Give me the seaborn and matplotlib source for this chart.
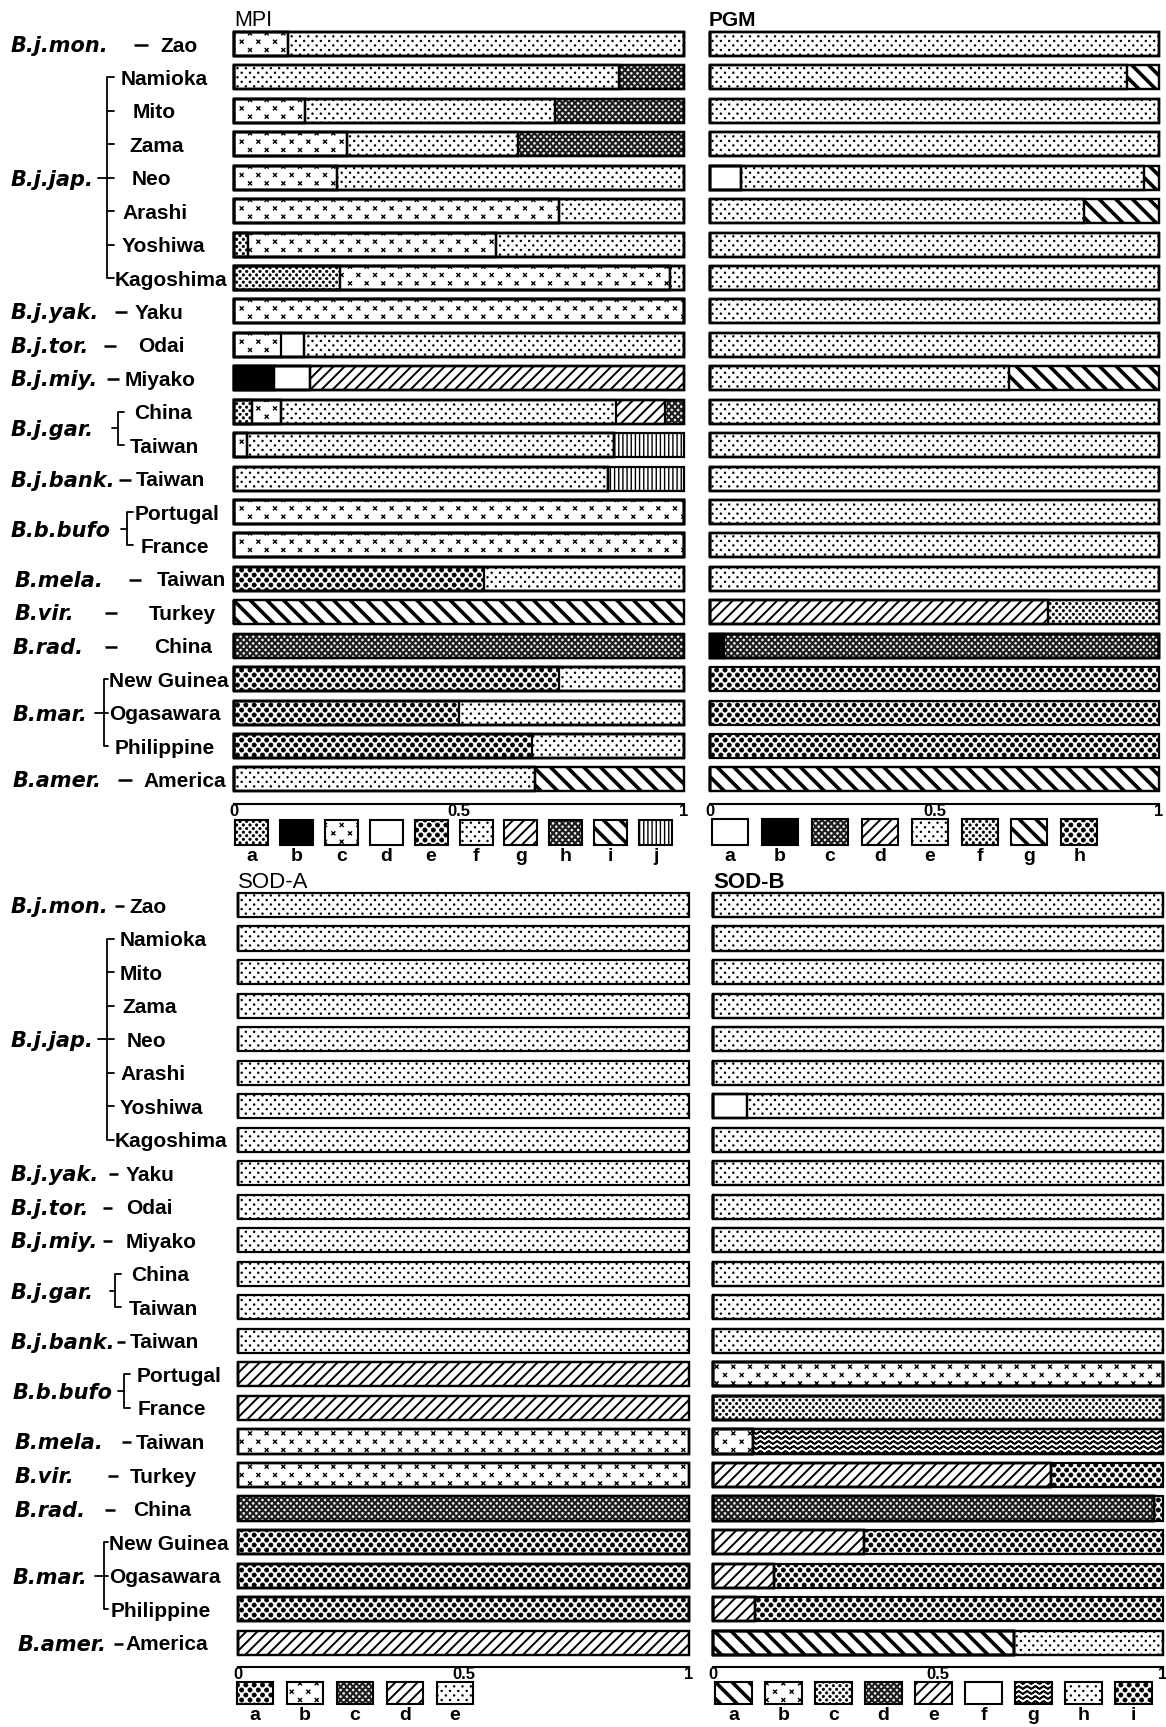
import warnings
warnings.filterwarnings("ignore")
import numpy as np
import matplotlib
matplotlib.use("Agg")
import matplotlib.pyplot as plt
import matplotlib.hatch as mhatch
from matplotlib.path import Path
import seaborn as sns

# ---------------- data ----------------
populations = ["Zao", "Namioka", "Mito", "Zama", "Neo", "Arashi", "Yoshiwa", "Kagoshima",
               "Yaku", "Odai", "Miyako", "China", "Taiwan", "Taiwan", "Portugal", "France",
               "Taiwan", "Turkey", "China", "New Guinea", "Ogasawara", "Philippine", "America"]
species = ["B.j.mon.", "B.j.jap.", "B.j.yak.", "B.j.tor.", "B.j.miy.", "B.j.gar.", "B.j.bank.",
           "B.b.bufo", "B.mela.", "B.vir.", "B.rad.", "B.mar.", "B.amer."]
species_first = [0, 1, 8, 9, 10, 11, 13, 14, 16, 17, 18, 19, 22]
species_last = [0, 7, 8, 9, 10, 12, 13, 15, 16, 17, 18, 21, 22]

# MPI alleles a-j
mpi_alleles = ["a", "b", "c", "d", "e", "f", "g", "h", "i", "j"]
mpi_a = [0, 0, 0, 0, 0, 0, .031, .236, 0, 0, 0, .041, 0, 0, 0, 0, 0, 0, 0, 0, 0, 0, 0]
mpi_b = [0, 0, 0, 0, 0, 0, 0, 0, 0, 0, .089, 0, 0, 0, 0, 0, 0, 0, 0, 0, 0, 0, 0]
mpi_c = [.12, 0, .158, .251, .229, .723, .551, .732, 1, .105, 0, .064, .028, 0, 1, 1, 0, 0, 0, 0, 0, 0, 0]
mpi_d = [0, 0, 0, 0, 0, 0, 0, 0, 0, .051, .079, 0, 0, 0, 0, 0, 0, 0, 0, 0, 0, 0, 0]
mpi_e = [0, 0, 0, 0, 0, 0, 0, 0, 0, 0, 0, 0, 0, 0, 0, 0, .556, 0, 0, .722, .5, .663, 0]
mpi_f = [.88, .856, .555, .381, .771, .277, .418, .032, 0, .844, 0, .743, .816, .832, 0, 0, .444, 0, 0, .278, .5, .337, .668]
mpi_g = [0, 0, 0, 0, 0, 0, 0, 0, 0, 0, .832, .109, 0, 0, 0, 0, 0, 0, 0, 0, 0, 0, 0]
mpi_h = [0, .144, .287, .368, 0, 0, 0, 0, 0, 0, 0, .043, 0, 0, 0, 0, 0, 0, 1, 0, 0, 0, 0]
mpi_i = [0, 0, 0, 0, 0, 0, 0, 0, 0, 0, 0, 0, 0, 0, 0, 0, 0, 1, 0, 0, 0, 0, .332]
mpi_j = [0, 0, 0, 0, 0, 0, 0, 0, 0, 0, 0, 0, .156, .168, 0, 0, 0, 0, 0, 0, 0, 0, 0]

# PGM alleles a-h
pgm_alleles = ["a", "b", "c", "d", "e", "f", "g", "h"]
pgm_a = [0, 0, 0, 0, .069, 0, 0, 0, 0, 0, 0, 0, 0, 0, 0, 0, 0, 0, 0, 0, 0, 0, 0]
pgm_b = [0, 0, 0, 0, 0, 0, 0, 0, 0, 0, 0, 0, 0, 0, 0, 0, 0, 0, .032, 0, 0, 0, 0]
pgm_c = [0, 0, 0, 0, 0, 0, 0, 0, 0, 0, 0, 0, 0, 0, 0, 0, 0, 0, .968, 0, 0, 0, 0]
pgm_d = [0, 0, 0, 0, 0, 0, 0, 0, 0, 0, 0, 0, 0, 0, 0, 0, 0, .753, 0, 0, 0, 0, 0]
pgm_e = [1, .929, 1, 1, .897, .834, 1, 1, 1, 1, .666, 1, 1, 1, 1, 1, 1, 0, 0, 0, 0, 0, 0]
pgm_f = [0, 0, 0, 0, 0, 0, 0, 0, 0, 0, 0, 0, 0, 0, 0, 0, 0, .247, 0, 0, 0, 0, 0]
pgm_g = [0, .071, 0, 0, .034, .166, 0, 0, 0, 0, .334, 0, 0, 0, 0, 0, 0, 0, 0, 0, 0, 0, 1]
pgm_h = [0, 0, 0, 0, 0, 0, 0, 0, 0, 0, 0, 0, 0, 0, 0, 0, 0, 0, 0, 1, 1, 1, 0]

# SOD-A alleles a-e
soda_alleles = ["a", "b", "c", "d", "e"]
soda_a = [0, 0, 0, 0, 0, 0, 0, 0, 0, 0, 0, 0, 0, 0, 0, 0, 0, 0, 0, 1, 1, 1, 0]
soda_b = [0, 0, 0, 0, 0, 0, 0, 0, 0, 0, 0, 0, 0, 0, 0, 0, 1, 1, 0, 0, 0, 0, 0]
soda_c = [0, 0, 0, 0, 0, 0, 0, 0, 0, 0, 0, 0, 0, 0, 0, 0, 0, 0, 1, 0, 0, 0, 0]
soda_d = [0, 0, 0, 0, 0, 0, 0, 0, 0, 0, 0, 0, 0, 0, 1, 1, 0, 0, 0, 0, 0, 0, 1]
soda_e = [1, 1, 1, 1, 1, 1, 1, 1, 1, 1, 1, 1, 1, 1, 0, 0, 0, 0, 0, 0, 0, 0, 0]

# SOD-B alleles a-i
sodb_alleles = ["a", "b", "c", "d", "e", "f", "g", "h", "i"]
sodb_a = [0, 0, 0, 0, 0, 0, 0, 0, 0, 0, 0, 0, 0, 0, 0, 0, 0, 0, 0, 0, 0, 0, .668]
sodb_b = [0, 0, 0, 0, 0, 0, 0, 0, 0, 0, 0, 0, 0, 0, 1, 0, .089, 0, 0, 0, 0, 0, 0]
sodb_c = [0, 0, 0, 0, 0, 0, 0, 0, 0, 0, 0, 0, 0, 0, 0, 1, 0, 0, 0, 0, 0, 0, 0]
sodb_d = [0, 0, 0, 0, 0, 0, 0, 0, 0, 0, 0, 0, 0, 0, 0, 0, 0, 0, .979, 0, 0, 0, 0]
sodb_e = [0, 0, 0, 0, 0, 0, 0, 0, 0, 0, 0, 0, 0, 0, 0, 0, 0, .75, 0, .335, .136, .094, 0]
sodb_f = [0, 0, 0, 0, 0, 0, .076, 0, 0, 0, 0, 0, 0, 0, 0, 0, 0, 0, 0, 0, 0, 0, 0]
sodb_g = [0, 0, 0, 0, 0, 0, 0, 0, 0, 0, 0, 0, 0, 0, 0, 0, .911, 0, 0, 0, 0, 0, 0]
sodb_h = [1, 1, 1, 1, 1, 1, .924, 1, 1, 1, 1, 1, 1, 1, 0, 0, 0, 0, 0, 0, 0, 0, .332]
sodb_i = [0, 0, 0, 0, 0, 0, 0, 0, 0, 0, 0, 0, 0, 0, 0, 0, 0, .25, .021, .665, .864, .906, 0]

tick_vals = [0, 0.5, 1]
tick_labels = ["0", "0.5", "1"]

# ---------------- custom hatch patterns ----------------
mhatch._validate_hatch_pattern = lambda hatch: None
_circle = Path.unit_circle()


def _lattice(char, ncols, nrows, kind, size):
    class Lattice(mhatch.HatchPatternBase):
        def __init__(self, hatch, density):
            if hatch.count(char) == 0:
                self.num_vertices = 0
                return
            vs, cs = [], []
            for r in range(nrows + 1):
                y = r / nrows
                if r % 2 == 0:
                    xs = [c / ncols for c in range(ncols + 1)]
                else:
                    xs = [(c + 0.5) / ncols for c in range(ncols)]
                for x in xs:
                    if kind == "dot":
                        vs.append(_circle.vertices * size + [x, y])
                        cs.append(_circle.codes)
                    else:
                        s = size
                        vs.append(np.array([[x - s, y - s], [x + s, y + s],
                                            [x - s, y + s], [x + s, y - s]]))
                        cs.append(np.array([Path.MOVETO, Path.LINETO, Path.MOVETO, Path.LINETO],
                                           dtype=Path.code_type))
            self._v = np.concatenate(vs)
            self._c = np.concatenate(cs).astype(Path.code_type)
            self.num_vertices = len(self._v)

        def set_vertices_and_codes(self, vertices, codes):
            vertices[:] = self._v
            codes[:] = self._c
    return Lattice


class WaveHatch(mhatch.HatchPatternBase):
    def __init__(self, hatch, density):
        if hatch.count("~") == 0:
            self.num_vertices = 0
            return
        nl, k, amp, npts = 20, 12, 0.012, 121
        xs = np.linspace(0, 1, npts)
        vs, cs = [], []
        for i in range(nl):
            y0 = (i + 0.5) / nl
            fwd = np.column_stack([xs, y0 + amp * np.sin(2 * np.pi * k * xs)])
            pts = np.concatenate([fwd, fwd[::-1]])
            vs.append(pts)
            c = np.full(len(pts), Path.LINETO, dtype=Path.code_type)
            c[0] = Path.MOVETO
            cs.append(c)
        self._v = np.concatenate(vs)
        self._c = np.concatenate(cs)
        self.num_vertices = len(self._v)

    def set_vertices_and_codes(self, vertices, codes):
        vertices[:] = self._v
        codes[:] = self._c


mhatch._hatch_types.extend([
    _lattice(":", 12, 22, "dot", 0.0065),    # sparse dots
    _lattice(";", 15, 28, "dot", 0.012),     # medium dots
    _lattice("@", 12, 20, "dot", 0.021),     # large dots
    _lattice("&", 16, 30, "dot", 0.0105),    # white specks on dark
    _lattice("#", 6, 12, "x", 0.015),        # small x marks
    WaveHatch,
])

STYLE = {
    "sparse": dict(face="white", hatch=":", hc="black", hlw=0.8),
    "medium": dict(face="white", hatch=";", hc="black", hlw=0.5),
    "cross": dict(face="white", hatch="#", hc="black", hlw=1.0),
    "white": dict(face="white", hatch=None, hc="black", hlw=1.0),
    "black": dict(face="black", hatch=None, hc="black", hlw=1.0),
    "bigdot": dict(face="white", hatch="@", hc="black", hlw=0.5),
    "dark": dict(face="#1e1e1e", hatch="&", hc="white", hlw=0.3),
    "fdiag": dict(face="white", hatch="///", hc="black", hlw=1.4),
    "bdiag": dict(face="white", hatch="\\\\", hc="black", hlw=2.6),
    "vert": dict(face="white", hatch="||||", hc="black", hlw=1.0),
    "wave": dict(face="white", hatch="~", hc="black", hlw=1.2),
}

mpi_styles = ["medium", "black", "cross", "white", "bigdot", "sparse", "fdiag", "dark", "bdiag", "vert"]
pgm_styles = ["white", "black", "dark", "fdiag", "sparse", "medium", "bdiag", "bigdot"]
soda_styles = ["bigdot", "cross", "dark", "fdiag", "sparse"]
sodb_styles = ["bdiag", "cross", "medium", "dark", "fdiag", "white", "wave", "sparse", "bigdot"]


def set_hlw(p, lw):
    try:
        p.set_hatch_linewidth(lw)
    except AttributeError:
        p._hatch_linewidth = lw


# ---------------- figure ----------------
sns.set_style("white")
plt.rcParams["font.family"] = ["DejaVu Sans"]
plt.rcParams["hatch.linewidth"] = 1.0
plt.rcParams["text.color"] = "black"
plt.rcParams["xtick.color"] = "black"
plt.rcParams["xtick.labelcolor"] = "black"
plt.rcParams["axes.edgecolor"] = "black"

W, H = 1166, 1727
fig = plt.figure(figsize=(W / 100, H / 100), dpi=100)

NROW = len(populations)
ids = [f"r{k}" for k in range(NROW)]
BAR_H = 0.72
TOPG = dict(row0=44.0, dy=33.43, spine=804.0)
BOTG = dict(row0=905.0, dy=33.53, spine=1667.0)


def draw_panel(x0, x1, geo, columns, styles):
    top_px = geo["row0"] - 0.65 * geo["dy"]
    bot_px = geo["spine"]
    ax = fig.add_axes([x0 / W, 1 - bot_px / H, (x1 - x0) / W, (bot_px - top_px) / H])
    cums = np.cumsum(np.array(columns, dtype=float), axis=0)
    for j in range(len(columns) - 1, -1, -1):
        st = STYLE[styles[j]]
        before = len(ax.patches)
        sns.barplot(x=cums[j], y=ids, order=ids, orient="h", errorbar=None,
                    color=st["face"], saturation=1, width=BAR_H, ax=ax)
        for p in ax.patches[before:]:
            p.set_facecolor(st["face"])
            p.set_edgecolor(st["hc"])
            p.set_linewidth(0)
            p.set_hatch(st["hatch"])
            set_hlw(p, st["hlw"])
            p.set_clip_on(False)
    for j in range(len(columns)):
        before = len(ax.patches)
        sns.barplot(x=cums[j], y=ids, order=ids, orient="h", errorbar=None,
                    color="white", saturation=1, width=BAR_H, ax=ax)
        for p in ax.patches[before:]:
            p.set_facecolor("none")
            p.set_edgecolor("black")
            p.set_linewidth(1.6)
            p.set_hatch(None)
            p.set_clip_on(False)
    ax.set_xlim(0, 1)
    ax.set_ylim((bot_px - geo["row0"]) / geo["dy"], -0.65)
    for s in ["top", "right", "left"]:
        ax.spines[s].set_visible(False)
    ax.spines["bottom"].set_linewidth(1.5)
    ax.spines["bottom"].set_color("black")
    ax.set_yticks([])
    ax.set_xticks(tick_vals)
    ax.set_xticklabels(tick_labels, fontweight="bold", fontsize=12, color="black",
                       family="Liberation Sans")
    ax.tick_params(axis="x", direction="in", length=6, width=1.5, pad=0, color="black")
    ax.set_xlabel("")
    ax.set_ylabel("")
    ax.patch.set_visible(False)
    return ax


def draw_legend(letters, styles, first_left, spacing, box_w, top, bottom, letter_y):
    n = len(letters)
    left_px = first_left - (spacing - box_w) / 2
    lax = fig.add_axes([left_px / W, 1 - bottom / H, n * spacing / W, (bottom - top) / H])
    lax.set_xlim(-0.5, n - 0.5)
    lax.set_ylim(0, 1)
    lax.axis("off")
    pos = np.arange(n)
    for i, s in enumerate(styles):
        st = STYLE[s]
        b = lax.bar(pos[i], 1, width=box_w / spacing, bottom=0, color=st["face"],
                    edgecolor=st["hc"], linewidth=0, hatch=st["hatch"], clip_on=False)
        set_hlw(b[0], st["hlw"])
        lax.bar(pos[i], 1, width=box_w / spacing, bottom=0, fill=False,
                edgecolor="black", linewidth=1.5, clip_on=False)
        lax.text(pos[i], -(letter_y - bottom) / (bottom - top), letters[i], ha="center",
                 va="center", fontsize=14, fontweight="bold", color="black",
                 family="Liberation Sans")


draw_panel(234, 684, TOPG, [mpi_a, mpi_b, mpi_c, mpi_d, mpi_e, mpi_f, mpi_g, mpi_h, mpi_i, mpi_j], mpi_styles)
draw_panel(710, 1159, TOPG, [pgm_a, pgm_b, pgm_c, pgm_d, pgm_e, pgm_f, pgm_g, pgm_h], pgm_styles)
draw_panel(238, 689, BOTG, [soda_a, soda_b, soda_c, soda_d, soda_e], soda_styles)
draw_panel(713, 1163, BOTG, [sodb_a, sodb_b, sodb_c, sodb_d, sodb_e, sodb_f, sodb_g, sodb_h, sodb_i], sodb_styles)

draw_legend(mpi_alleles, mpi_styles, 235, 44.9, 33, 820, 845, 857)
draw_legend(pgm_alleles, pgm_styles, 712, 49.9, 36, 819, 845, 857)
draw_legend(soda_alleles, soda_styles, 237, 50.0, 36, 1682, 1704, 1715)
draw_legend(sodb_alleles, sodb_styles, 715, 50.0, 37, 1682, 1704, 1715)

# ---------------- labels overlay ----------------
ov = fig.add_axes([0, 0, 1, 1])
ov.set_xlim(0, W)
ov.set_ylim(H, 0)
ov.axis("off")
ov.patch.set_visible(False)

SP_FONT = dict(family="DejaVu Sans", fontweight="bold", fontstyle="italic", fontsize=15, color="black")
POP_FONT = dict(family="Liberation Sans", fontweight="bold", fontsize=15, color="black")

ov.text(234, 26, "MPI", fontsize=15.5, va="baseline", ha="left", family="Liberation Sans")
ov.text(709, 26, "PGM", fontsize=15, fontweight="bold", va="baseline", ha="left", family="Liberation Sans")
ov.text(238, 888, "SOD-A", fontsize=16, va="baseline", ha="left", family="Liberation Sans")
ov.text(713, 888, "SOD-B", fontsize=16, fontweight="bold", va="baseline", ha="left", family="Liberation Sans")

layouts = [
    dict(geo=TOPG,
         sp_x=[11, 11, 11, 11, 11, 11, 11, 11, 15, 15, 13, 13, 13],
         dash_x=[134, None, 115, 104, 107, None, 119, None, 129, 105, 105, None, 118],
         dash_len=[14, 0, 12, 12, 12, 0, 12, 0, 12, 12, 12, 0, 14],
         pop_x=[160, 121, 133, 129, 132, 122, 122, 115, 135, 138, 125, 134, 130, 136, 135, 141,
                157, 149, 154, 109, 109, 115, 143],
         br={1: (107, 114, 98), 5: (118, 124, 112), 7: (127, 133, 121), 11: (104, 108, 95)}),
    dict(geo=BOTG,
         sp_x=[11, 11, 11, 11, 11, 11, 11, 13, 15, 15, 15, 13, 18],
         dash_x=[115, None, 109, 103, 103, None, 117, None, 122, 108, 105, None, 114],
         dash_len=[9, 0, 9, 9, 9, 0, 8, 0, 9, 10, 10, 0, 9],
         pop_x=[129, 120, 120, 122, 127, 120, 120, 115, 126, 126, 126, 131, 129, 130, 137, 138,
                136, 130, 133, 109, 109, 111, 125],
         br={1: (107, 114, 98), 5: (115, 121, 110), 7: (124, 130, 118), 11: (104, 108, 95)}),
]

for L in layouts:
    g = L["geo"]

    def ry(k):
        return g["row0"] + k * g["dy"]

    for k, name in enumerate(populations):
        ov.text(L["pop_x"][k], ry(k), name, ha="left", va="center_baseline", **POP_FONT)
    for si, name in enumerate(species):
        f, l = species_first[si], species_last[si]
        ymid = ry((f + l) / 2)
        ov.text(L["sp_x"][si], ymid, name, ha="left", va="center_baseline", **SP_FONT)
        if L["dash_x"][si] is not None:
            dx = L["dash_x"][si]
            ov.plot([dx, dx + L["dash_len"][si]], [ymid + 1, ymid + 1], color="black",
                    lw=1.8, solid_capstyle="butt")
        if si in L["br"]:
            vx, rx, nx = L["br"][si]
            ov.plot([vx, vx], [ry(f), ry(l)], color="black", lw=1.3, solid_capstyle="butt")
            for k in range(f, l + 1):
                ov.plot([vx, rx], [ry(k), ry(k)], color="black", lw=1.3)
            ov.plot([nx, vx], [ymid, ymid], color="black", lw=1.3)

fig.savefig("out.png", dpi=100)
